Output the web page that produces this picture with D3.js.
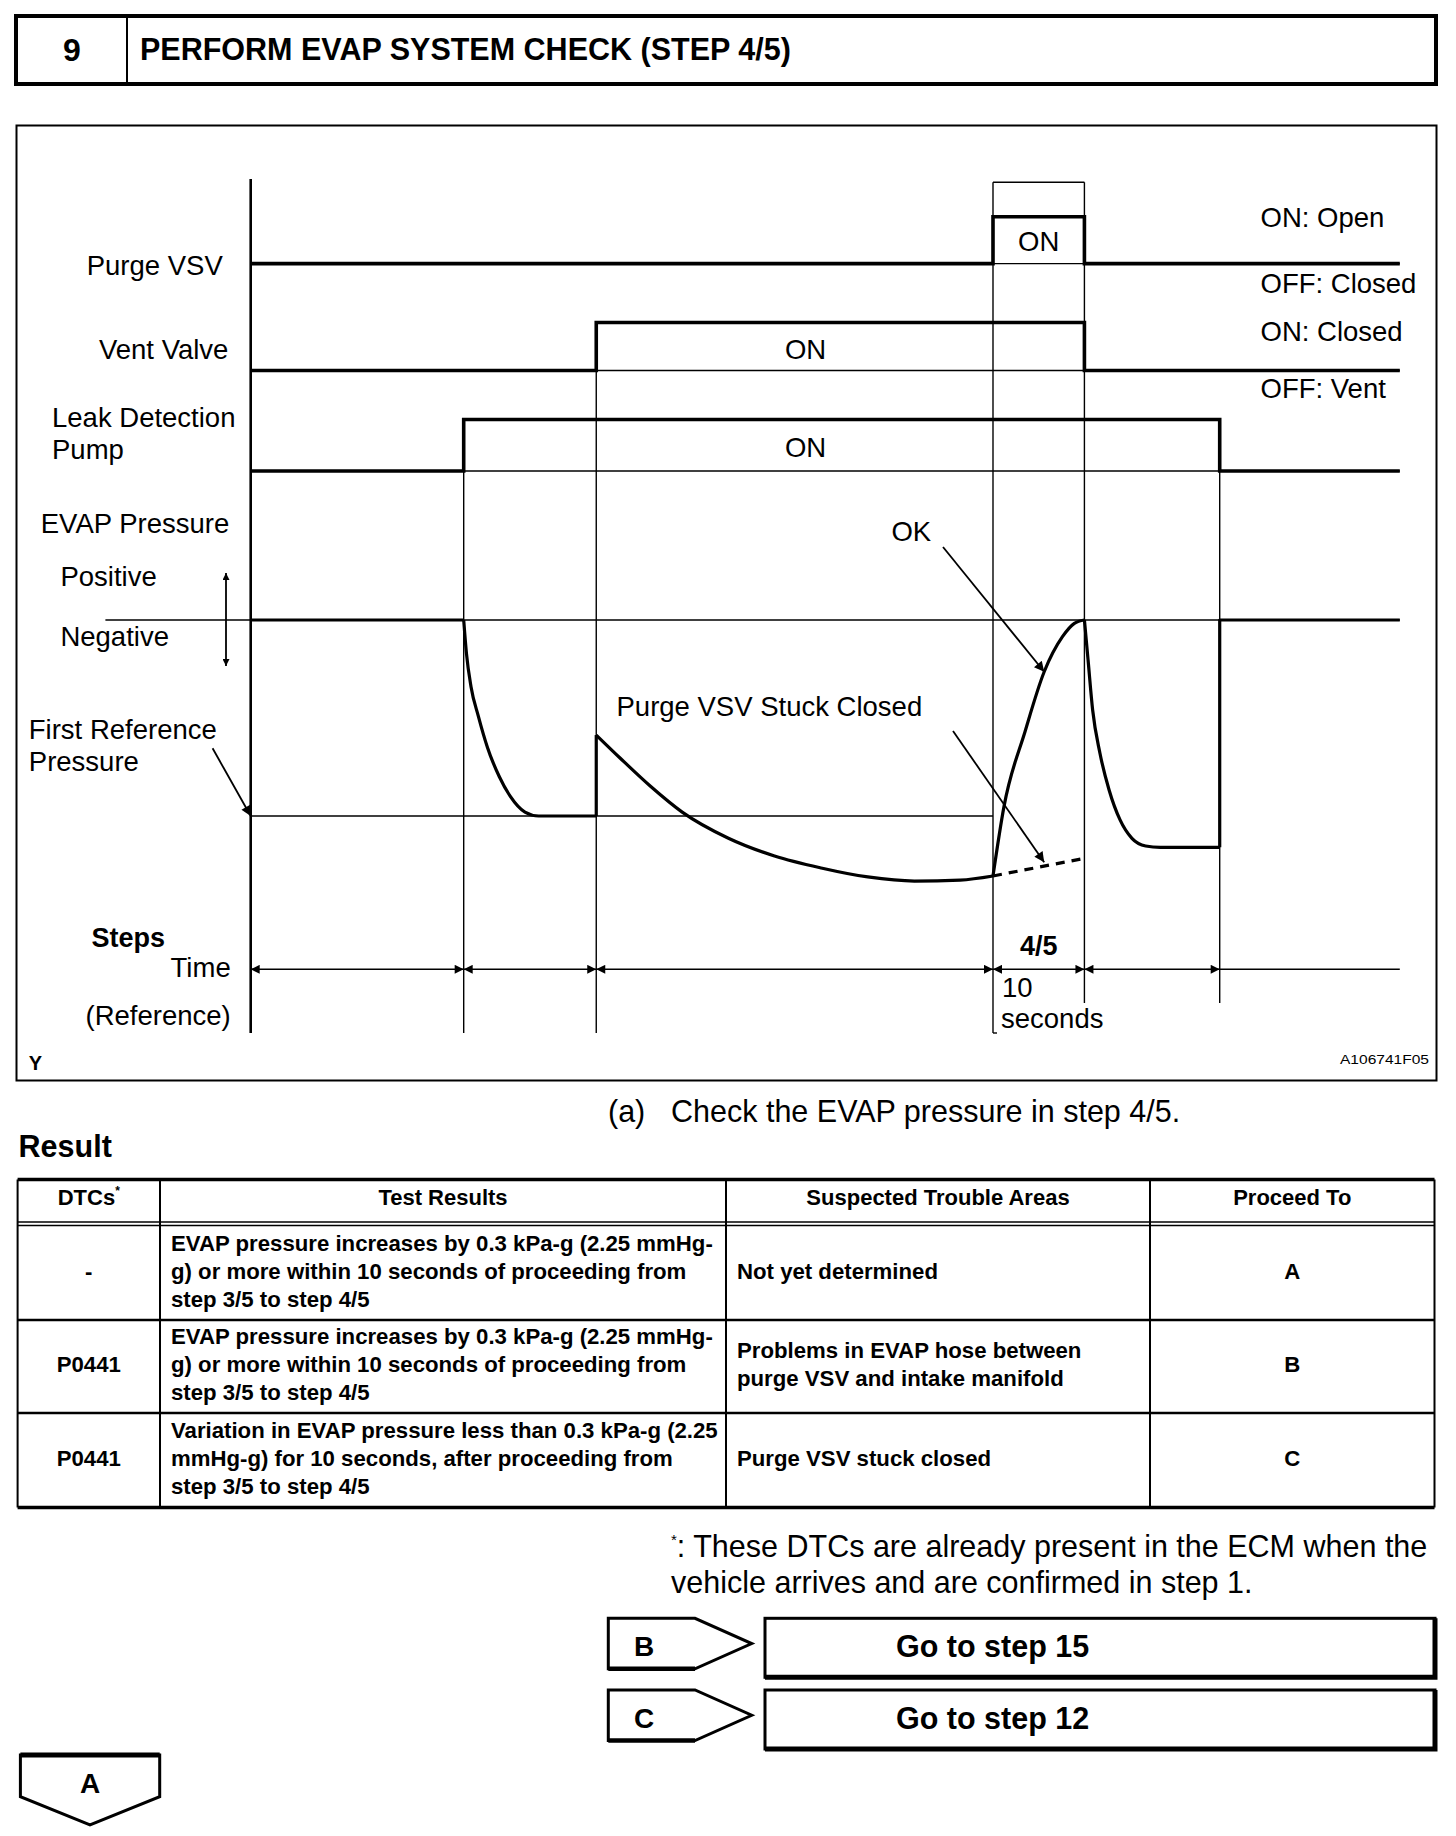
<!DOCTYPE html>
<html>
<head>
<meta charset="utf-8">
<script src="https://cdn.jsdelivr.net/npm/d3@7"></script>
<style>
  body { margin: 0; background: #fff; }
  svg text { font-family: "Liberation Sans", Arial, sans-serif; fill: #000; }
</style>
</head>
<body>
<div id="page"></div>
<script>
// step boundaries along the time axis (seconds, schematic; step 4/5 = 10 s)
const stepBounds = [0, 23.3, 37.8, 81.2, 91.2, 106, 125.7];

// signal states per step interval (1 = ON)
const signalNames = ['Purge VSV', 'Vent Valve', 'Leak Detection Pump'];
const purgeState = [0, 0, 0, 1, 0, 0];
const ventState  = [0, 0, 1, 1, 0, 0];
const pumpState  = [0, 1, 1, 1, 1, 0];
const stateNotes = [['ON: Open', 'OFF: Closed'], ['ON: Closed', 'OFF: Vent'], []];

// EVAP pressure trace (0 = atmospheric, -1 = first reference pressure)
const pumpDownT = [23.3, 23.6, 24.1, 24.9, 25.9, 27.2, 28.4, 30.0, 31.5, 37.8];
const pumpDownP = [0, -0.17, -0.34, -0.49, -0.65, -0.8, -0.9, -0.98, -1, -1];
const purgeT = [37.8, 40.4, 43.7, 47.2, 52.2, 57.3, 62.4, 67.5, 72.6, 77.6, 81.2];
const purgeP = [-0.587, -0.704, -0.847, -0.98, -1.112, -1.204, -1.265, -1.311, -1.332, -1.327, -1.306];
const okT = [81.2, 82.4, 84.7, 86.8, 88.8, 90.1, 91.2];
const okP = [-1.306, -0.952, -0.57, -0.264, -0.085, -0.017, 0];
const stuckT = [81.2, 91.2];
const stuckP = [-1.306, -1.216];
const ventDownT = [91.2, 91.6, 92.1, 92.9, 93.9, 95.1, 96.4, 97.9, 99.5, 106];
const ventDownP = [0, -0.204, -0.459, -0.68, -0.867, -1.02, -1.114, -1.153, -1.16, -1.16];

// result table
const tableHeaders = ['DTCs', 'Test Results', 'Suspected Trouble Areas', 'Proceed To'];
const dtcCodes = ['-', 'P0441', 'P0441'];
const testResults = [
  ['EVAP pressure increases by 0.3 kPa-g (2.25 mmHg-', 'g) or more within 10 seconds of proceeding from', 'step 3/5 to step 4/5'],
  ['EVAP pressure increases by 0.3 kPa-g (2.25 mmHg-', 'g) or more within 10 seconds of proceeding from', 'step 3/5 to step 4/5'],
  ['Variation in EVAP pressure less than 0.3 kPa-g (2.25', 'mmHg-g) for 10 seconds, after proceeding from', 'step 3/5 to step 4/5']
];
const troubleAreas = [
  ['Not yet determined'],
  ['Problems in EVAP hose between', 'purge VSV and intake manifold'],
  ['Purge VSV stuck closed']
];
const proceedTo = ['A', 'B', 'C'];
const branchCodes = ['B', 'C'];
const branchTargets = ['Go to step 15', 'Go to step 12'];

const svg = d3.select('#page')
  .append('svg')
  .attr('width', 1456)
  .attr('height', 1836);

const defs = svg.append('defs');
function marker(id, len, wid) {
  defs.append('marker')
    .attr('id', id)
    .attr('viewBox', '0 0 10 10')
    .attr('refX', 10).attr('refY', 5)
    .attr('markerUnits', 'userSpaceOnUse')
    .attr('markerWidth', len).attr('markerHeight', wid)
    .attr('orient', 'auto-start-reverse')
    .append('path').attr('d', 'M0,0L10,5L0,10z').attr('fill', '#000');
}
marker('head', 17, 10);
marker('tick', 13, 9);
marker('small', 13, 7);

function txt(g, x, y, s, size, opts = {}) {
  return g.append('text')
    .attr('x', x).attr('y', y)
    .attr('font-size', size)
    .attr('font-weight', opts.bold ? 'bold' : null)
    .attr('text-anchor', opts.anchor || 'start')
    .text(s);
}

// ---- header bar
svg.append('rect').attr('x', 16).attr('y', 16).attr('width', 1420).attr('height', 68)
  .attr('fill', 'none').attr('stroke', '#000').attr('stroke-width', 4);
svg.append('line').attr('x1', 127).attr('x2', 127).attr('y1', 16).attr('y2', 84)
  .attr('stroke', '#000').attr('stroke-width', 2);
txt(svg, 72, 61, '9', 32, { bold: true, anchor: 'middle' });
txt(svg, 140, 60, 'PERFORM EVAP SYSTEM CHECK (STEP 4/5)', 30.5, { bold: true });

// ---- timing diagram
const dg = svg.append('g');
dg.append('rect').attr('x', 16.5).attr('y', 125.5).attr('width', 1420).attr('height', 955)
  .attr('fill', 'none').attr('stroke', '#000').attr('stroke-width', 2);

const x = d3.scaleLinear().domain([0, 125.7]).range([250.7, 1399.8]);
const yP = d3.scaleLinear().domain([0, -1]).range([620, 816]);
const trackLow = d3.scaleOrdinal().domain(signalNames).range([263.6, 370.5, 471]);
const trackHigh = d3.scaleOrdinal().domain(signalNames).range([216.7, 322.5, 419.5]);
const states = [purgeState, ventState, pumpState];
const boxTop = 182.3;
const axisTop = 179, longBottom = 1033, shortBottom = 1003, timeY = 969.3;

const thin = 1.4, thick = 3.6;

// thin grid lines under the signals
signalNames.forEach(name => {
  dg.append('line')
    .attr('x1', x(0)).attr('x2', x(125.7))
    .attr('y1', trackLow(name)).attr('y2', trackLow(name))
    .attr('stroke', '#000').attr('stroke-width', thin);
});
dg.append('line').attr('x1', x(stepBounds[3])).attr('x2', x(stepBounds[4]))
  .attr('y1', boxTop).attr('y2', boxTop).attr('stroke', '#000').attr('stroke-width', thin);

// vertical step lines: start at the highest signal that changes there
stepBounds.slice(1, 6).forEach((t, j) => {
  const i = j + 1;
  let top = longBottom;
  states.forEach((st, k) => {
    if (st[i] !== st[i - 1]) {
      const yy = k === 0 ? boxTop : trackHigh(signalNames[k]);
      top = Math.min(top, yy);
    }
  });
  dg.append('line')
    .attr('x1', x(t)).attr('x2', x(t))
    .attr('y1', top).attr('y2', i <= 3 ? longBottom : shortBottom)
    .attr('stroke', '#000').attr('stroke-width', thin);
});
// bracket foot of the 10 s span
dg.append('line').attr('x1', x(stepBounds[3])).attr('x2', x(stepBounds[3]) + 4)
  .attr('y1', longBottom).attr('y2', longBottom).attr('stroke', '#000').attr('stroke-width', thin);

// main axis
dg.append('line').attr('x1', x(0)).attr('x2', x(0)).attr('y1', axisTop).attr('y2', longBottom)
  .attr('stroke', '#000').attr('stroke-width', 2.6);

// signal traces
signalNames.forEach((name, k) => {
  const lvl = d3.scaleLinear().domain([0, 1]).range([trackLow(name), trackHigh(name)]);
  const st = states[k];
  const pts = stepBounds.map((t, i) => [t, st[Math.min(i, st.length - 1)]]);
  dg.append('path')
    .attr('d', d3.line().x(d => x(d[0])).y(d => lvl(d[1])).curve(d3.curveStepAfter)(pts))
    .attr('fill', 'none').attr('stroke', '#000').attr('stroke-width', thick);
});

// pressure reference lines
dg.append('line').attr('x1', 105.4).attr('x2', x(125.7)).attr('y1', yP(0)).attr('y2', yP(0))
  .attr('stroke', '#000').attr('stroke-width', thin);
dg.append('line').attr('x1', x(0)).attr('x2', x(stepBounds[3])).attr('y1', yP(-1)).attr('y2', yP(-1))
  .attr('stroke', '#000').attr('stroke-width', thin);

// pressure trace
const smooth = d3.line().x(d => x(d[0])).y(d => yP(d[1])).curve(d3.curveMonotoneX);
const straight = d3.line().x(d => x(d[0])).y(d => yP(d[1]));
const zip = (t, p) => t.map((v, i) => [v, p[i]]);
const evapPieces = [
  straight([[0, 0], [pumpDownT[0], 0]]),
  smooth(zip(pumpDownT, pumpDownP)),
  straight([[purgeT[0], pumpDownP[pumpDownP.length - 1]], [purgeT[0], purgeP[0]]]),
  smooth(zip(purgeT, purgeP)),
  smooth(zip(okT, okP)),
  smooth(zip(ventDownT, ventDownP)),
  straight([[ventDownT[ventDownT.length - 1], ventDownP[ventDownP.length - 1]],
            [ventDownT[ventDownT.length - 1], 0], [125.7, 0]])
];
dg.selectAll('path.evap').data(evapPieces).enter().append('path')
  .attr('class', 'evap').attr('d', d => d)
  .attr('fill', 'none').attr('stroke', '#000').attr('stroke-width', 3.2)
  .attr('stroke-linejoin', 'round');
dg.append('path').attr('d', straight(zip(stuckT, stuckP)))
  .attr('fill', 'none').attr('stroke', '#000').attr('stroke-width', 3.2)
  .attr('stroke-dasharray', '9,7');

// time arrows
stepBounds.slice(0, 5).forEach((t, i) => {
  dg.append('line')
    .attr('x1', x(t)).attr('x2', x(stepBounds[i + 1]))
    .attr('y1', timeY).attr('y2', timeY)
    .attr('stroke', '#000').attr('stroke-width', 1.6)
    .attr('marker-start', 'url(#tick)').attr('marker-end', 'url(#tick)');
});
dg.append('line').attr('x1', x(stepBounds[5])).attr('x2', x(125.7))
  .attr('y1', timeY).attr('y2', timeY).attr('stroke', '#000').attr('stroke-width', 1.6);

// annotation arrows
const arrow = (x1, y1, x2, y2, both, id) => dg.append('line')
  .attr('x1', x1).attr('y1', y1).attr('x2', x2).attr('y2', y2)
  .attr('stroke', '#000').attr('stroke-width', 1.8)
  .attr('marker-end', `url(#${id || 'head'})`)
  .attr('marker-start', both ? `url(#${id || 'head'})` : null);
arrow(226, 573, 226, 666, true, 'small');
arrow(212.6, 748.3, x(0), yP(-1));
arrow(943, 547, x(okT[3]), yP(okP[3]));
arrow(953, 731, x(86.8), yP(-1.256) - 4);

// diagram labels
const fs = 27.5;
txt(dg, 222.8, 275, 'Purge VSV', fs, { anchor: 'end' });
txt(dg, 228.4, 359.3, 'Vent Valve', fs, { anchor: 'end' });
txt(dg, 52, 427.3, 'Leak Detection', fs);
txt(dg, 52, 459, 'Pump', fs);
txt(dg, 229.3, 532.7, 'EVAP Pressure', fs, { anchor: 'end' });
txt(dg, 60.4, 586, 'Positive', fs);
txt(dg, 60.4, 646, 'Negative', fs);
txt(dg, 28.8, 739, 'First Reference', fs);
txt(dg, 28.8, 771, 'Pressure', fs);
txt(dg, 91.5, 947, 'Steps', 27, { bold: true });
txt(dg, 230.7, 977, 'Time', fs, { anchor: 'end' });
txt(dg, 230.7, 1025, '(Reference)', fs, { anchor: 'end' });
txt(dg, 28.8, 1070, 'Y', 20, { bold: true });
txt(dg, 1429, 1064, 'A106741F05', 13, { anchor: 'end' }).attr('textLength', 89).attr('lengthAdjust', 'spacingAndGlyphs');

const noteY = [[227.3, 292.7], [340.7, 398.3]];
stateNotes.forEach((notes, k) => notes.forEach((n, j) => txt(dg, 1260.5, noteY[k][j], n, fs)));

txt(dg, x((stepBounds[3] + stepBounds[4]) / 2), 250.7, 'ON', fs, { anchor: 'middle' });
txt(dg, x(60.7), 359.3, 'ON', fs, { anchor: 'middle' });
txt(dg, x(60.7), 456.7, 'ON', fs, { anchor: 'middle' });
txt(dg, 891.4, 541, 'OK', fs);
txt(dg, 616.5, 716, 'Purge VSV Stuck Closed', fs);
txt(dg, x((stepBounds[3] + stepBounds[4]) / 2), 955, '4/5', 27, { bold: true, anchor: 'middle' });
txt(dg, 1002, 997, '10', fs);
txt(dg, 1001, 1028, 'seconds', fs);

// ---- text below the diagram
txt(svg, 608, 1122, '(a)', 30.5);
txt(svg, 671, 1122, 'Check the EVAP pressure in step 4/5.', 30.5);
txt(svg, 18.6, 1157, 'Result', 30.5, { bold: true });

// ---- result table
const colX = [17.6, 160, 726, 1150, 1434.5];
const tTop = 1179.5, hdrLine = 1222, rowY = [1225.5, 1320, 1413, 1507.5];
const tf = 22.2, pitch = 28;
const tg = svg.append('g');
const hline = (y, w) => tg.append('line').attr('x1', colX[0]).attr('x2', colX[4])
  .attr('y1', y).attr('y2', y).attr('stroke', '#000').attr('stroke-width', w);
colX.forEach(cx => tg.append('line').attr('x1', cx).attr('x2', cx).attr('y1', tTop).attr('y2', rowY[3])
  .attr('stroke', '#000').attr('stroke-width', 2));
hline(tTop, 3.6);
hline(hdrLine, 1.4);
hline(rowY[0], 1.4);
hline(rowY[1], 2.6);
hline(rowY[2], 2.6);
hline(rowY[3], 3.6);

tableHeaders.forEach((h, i) => {
  const t = txt(tg, (colX[i] + colX[i + 1]) / 2, 1204.5, h, 22, { bold: true, anchor: 'middle' });
  if (i === 0) t.append('tspan').attr('font-size', 12).attr('dy', -10).text('*');
});

function cell(lines, cx, rowIdx, anchor) {
  const mid = (rowY[rowIdx] + rowY[rowIdx + 1]) / 2;
  lines.forEach((s, k) => {
    const by = mid - (lines.length - 1) / 2 * pitch + k * pitch + tf * 0.26;
    txt(tg, cx, by, s, tf, { bold: true, anchor });
  });
}
dtcCodes.forEach((d, r) => cell([d], (colX[0] + colX[1]) / 2, r, 'middle'));
testResults.forEach((l, r) => cell(l, colX[1] + 11, r, 'start'));
troubleAreas.forEach((l, r) => cell(l, colX[2] + 11, r, 'start'));
proceedTo.forEach((p, r) => cell([p], (colX[3] + colX[4]) / 2, r, 'middle'));

// footnote
const fn = txt(svg, 671, 1557, '', 30.5);
fn.append('tspan').attr('font-size', 15).attr('dy', -12).text('*');
fn.append('tspan').attr('dy', 12).text(': These DTCs are already present in the ECM when the');
txt(svg, 671, 1593, 'vehicle arrives and are confirmed in step 1.', 30.5);

// ---- branch buttons
const bTop = [1618.3, 1690], bH = 50.5, boxH = 59;
branchCodes.forEach((c, i) => {
  const t0 = bTop[i];
  svg.append('path')
    .attr('d', `M608.3,${t0}H695L751.7,${t0 + bH / 2}L695,${t0 + bH}H608.3Z`)
    .attr('fill', 'none').attr('stroke', '#000').attr('stroke-width', 3).attr('stroke-linejoin', 'miter');
  svg.append('line').attr('x1', 608.3).attr('x2', 695).attr('y1', t0 + bH).attr('y2', t0 + bH)
    .attr('stroke', '#000').attr('stroke-width', 4.5);
  txt(svg, 634, t0 + 38, c, 28, { bold: true });
  svg.append('rect').attr('x', 765).attr('y', t0).attr('width', 670).attr('height', boxH)
    .attr('fill', 'none').attr('stroke', '#000').attr('stroke-width', 3);
  svg.append('path').attr('d', `M765,${t0 + boxH}H1435V${t0}`)
    .attr('fill', 'none').attr('stroke', '#000').attr('stroke-width', 5);
  txt(svg, 896, t0 + 38.5, branchTargets[i], 30.5, { bold: true });
});

// A: continue
svg.append('path').attr('d', 'M20.4,1755H159.7V1796.7L90,1825L20.4,1796.7Z')
  .attr('fill', 'none').attr('stroke', '#000').attr('stroke-width', 3);
svg.append('line').attr('x1', 20.4).attr('x2', 159.7).attr('y1', 1755).attr('y2', 1755)
  .attr('stroke', '#000').attr('stroke-width', 5);
txt(svg, 90, 1793, 'A', 28, { bold: true, anchor: 'middle' });
</script>
</body>
</html>
